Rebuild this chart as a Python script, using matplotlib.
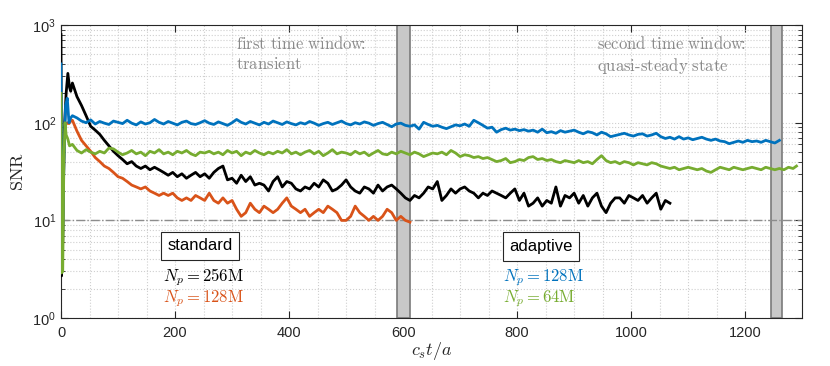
import numpy as np
import matplotlib
matplotlib.use("Agg")
import matplotlib.pyplot as plt
from matplotlib.ticker import LogLocator, MultipleLocator, NullFormatter, FixedLocator

plt.rcParams['font.family'] = ['Liberation Sans', 'DejaVu Sans']
plt.rcParams['mathtext.fontset'] = 'cm'

# ---------------- data ----------------
STEP = 8
black_t0 = [0, 1, 3, 6, 9, 12, 15, 17]
black_v0 = [800, 2.7, 8, 90, 200, 320, 230, 210]
black_v = [255, 185, 150, 118, 92, 84, 76, 66, 58, 51,
           46, 42, 38, 40, 36, 34, 36, 33, 35, 33,
           31, 29, 31, 28, 30, 27, 29, 31, 28, 30,
           27, 31, 34, 36, 26, 27, 24, 29, 25, 28,
           23, 24, 23, 20, 25, 28, 22, 25, 24, 21,
           20, 22, 21, 24, 22, 26, 24, 20, 21, 23,
           26, 22, 20, 19, 22, 21, 19, 23, 20, 22,
           23, 21, 19, 17, 16, 18, 17, 19, 22, 21,
           25, 16, 18, 21, 19, 21, 22, 20, 19, 17,
           19, 18, 20, 19, 18, 17, 19, 21, 16, 19,
           14, 15, 17, 14, 16, 15, 22, 14, 18, 17,
           19, 15, 18, 14, 17, 19, 14, 12, 15, 17,
           17, 15, 18, 17, 16, 18, 15, 17, 19, 13,
           16, 15]

red_t0 = [1, 3, 5, 8, 11, 14, 17]
red_v0 = [5.5, 5.8, 50, 95, 100, 98, 104]
red_v = [106, 82, 66, 58, 51, 44, 40, 36, 34, 31,
         28, 27, 25, 23, 22, 21, 22, 20, 19, 18,
         19, 18, 19, 17, 16, 17, 16, 18, 17, 16,
         19, 16, 15, 17, 15, 16, 13, 11, 12, 15,
         13, 12, 14, 13, 12, 13, 15, 17, 14, 13,
         12, 13, 11, 12, 13, 12, 14, 13, 12, 10,
         10, 11, 14, 12, 11, 10, 11, 10, 11, 13,
         12, 10, 11, 10, 9.6]

blue_t0 = [0, 1, 3, 5, 8, 11, 14, 17]
blue_v0 = [400, 5.6, 6, 40, 150, 178, 100, 112]
blue_v = [118, 112, 104, 100, 107, 97, 103, 99, 96, 104,
          101, 98, 106, 99, 95, 102, 97, 100, 108, 101,
          97, 103, 99, 95, 101, 104, 98, 96, 100, 105,
          99, 96, 102, 98, 94, 100, 108, 101, 97, 103,
          99, 95, 101, 97, 104, 100, 96, 102, 98, 95,
          100, 97, 103, 99, 94, 98, 101, 96, 100, 104,
          98, 95, 100, 97, 102, 99, 94, 98, 101, 96,
          91, 97, 99, 94, 92, 95, 86, 101, 96, 92,
          94, 90, 87, 91, 95, 93, 97, 92, 106, 100,
          94, 88, 90, 80, 85, 88, 84, 86, 83, 85,
          82, 84, 80, 86, 79, 81, 78, 83, 80, 82,
          84, 80, 77, 81, 79, 75, 80, 77, 72, 74,
          76, 78, 75, 73, 76, 77, 73, 75, 78, 72,
          69, 71, 68, 72, 68, 70, 67, 69, 71, 68,
          66, 68, 65, 64, 61, 63, 65, 63, 66, 64,
          65, 63, 66, 64, 62, 66]

green_t0 = [0, 1, 3, 5, 7, 9, 12, 15]
green_v0 = [200, 2.9, 3, 40, 100, 75, 68, 58]
green_v = [60, 52, 49, 53, 50, 48, 51, 49, 55, 54,
           50, 47, 49, 52, 48, 50, 46, 51, 49, 53,
           48, 50, 47, 51, 49, 52, 48, 46, 50, 49,
           51, 48, 50, 47, 52, 49, 51, 46, 50, 48,
           52, 49, 47, 50, 48, 51, 49, 53, 48, 50,
           47, 50, 52, 48, 51, 46, 49, 53, 48, 50,
           49, 47, 51, 48, 50, 46, 49, 52, 48, 47,
           50, 48, 51, 49, 47, 50, 48, 45, 47, 49,
           48, 50, 47, 52, 49, 45, 47, 46, 44, 45,
           43, 44, 42, 40, 41, 43, 39, 40, 42, 41,
           44, 45, 42, 43, 41, 42, 40, 39, 41, 40,
           39, 41, 39, 40, 38, 42, 46, 41, 39, 40,
           38, 40, 39, 37, 39, 38, 37, 39, 38, 36,
           35, 34, 35, 33, 34, 35, 34, 33, 34, 32,
           31, 33, 35, 34, 33, 35, 34, 33, 34, 35,
           34, 33, 35, 34, 33, 34, 33, 35, 34, 36]

windows = [(590, 612), (1245, 1265)]
threshold = 10
xticks = [0, 200, 400, 600, 800, 1000, 1200]

def series(t0, v0, v, start=20):
    t = list(t0) + [start + STEP * i for i in range(len(v))]
    return np.array(t, float), np.array(list(v0) + list(v), float)

tb, vb = series(black_t0, black_v0, black_v)
tr, vr = series(red_t0, red_v0, red_v)
tB, vB = series(blue_t0, blue_v0, blue_v)
tg, vg = series(green_t0, green_v0, green_v[:-1])
tg = np.append(tg, 1290.0); vg = np.append(vg, green_v[-1])

c_black = 'black'
c_red = '#D95319'
c_blue = '#0072BD'
c_green = '#77AC30'

# ---------------- figure ----------------
fig = plt.figure(figsize=(8.30, 3.66), dpi=100)
ax = fig.add_axes([0.0735, 0.131, 0.893, 0.8005])
ax.set_yscale('log')
ax.set_xlim(0, 1300)
ax.set_ylim(1, 1000)

for (a, b) in windows:
    ax.axvspan(a, b, facecolor='#c8c8c8', edgecolor='#7a7a7a', lw=1.2, zorder=1)

ax.axhline(threshold, color='#8c8c8c', ls='-.', lw=1.0, zorder=1.5)

lw = 2.0
ax.plot(tb, vb, color=c_black, lw=lw, zorder=3)
ax.plot(tr, vr, color=c_red, lw=lw, zorder=3)
ax.plot(tB, vB, color=c_blue, lw=lw, zorder=3)
ax.plot(tg, vg, color=c_green, lw=lw, zorder=3)

# ticks & grid
ax.xaxis.set_major_locator(FixedLocator(xticks))
ax.xaxis.set_minor_locator(MultipleLocator(50))
ax.yaxis.set_major_locator(LogLocator(base=10, numticks=10))
ax.yaxis.set_minor_locator(LogLocator(base=10, subs=np.arange(2, 10), numticks=10))
ax.yaxis.set_minor_formatter(NullFormatter())
ax.tick_params(which='both', direction='in', top=True, right=True,
               colors='#262626', labelsize=10.5)
ax.tick_params(which='major', length=5, width=0.8)
ax.tick_params(axis='y', which='minor', length=3, width=0.6)
ax.tick_params(axis='x', which='minor', length=0)
ax.tick_params(axis='x', which='major', pad=6)
ax.grid(True, which='both', color='#cfcfcf', ls=':', lw=0.8, zorder=0)
ax.set_axisbelow(True)
for s in ax.spines.values():
    s.set_color('#262626')
    s.set_linewidth(0.8)

ax.set_xlabel(r'$c_s t/a$', fontsize=13, color='#262626', labelpad=0)
ax.set_ylabel(r'$\mathrm{SNR}$', fontsize=13, color='#262626', labelpad=4)

# annotations
gray = '#8a8a8a'
ax.text(0.236, 0.965, r'$\mathrm{first\ time\ window}\!\!:$', transform=ax.transAxes,
        fontsize=12, color=gray, va='top', ha='left')
ax.text(0.236, 0.895, r'$\mathrm{transient}$', transform=ax.transAxes,
        fontsize=12, color=gray, va='top', ha='left')
ax.text(0.723, 0.965, r'$\mathrm{second\ time\ window}\!\!:$', transform=ax.transAxes,
        fontsize=12, color=gray, va='top', ha='left')
ax.text(0.723, 0.895, r'$\mathrm{quasi\text{-}steady\ state}$', transform=ax.transAxes,
        fontsize=12, color=gray, va='top', ha='left')

box = dict(boxstyle='square,pad=0.4', facecolor='white', edgecolor='#262626', lw=0.8)
ax.text(244, 5.5, 'standard', fontsize=12, ha='center', va='center', bbox=box, zorder=5)
ax.text(842, 5.4, 'adaptive', fontsize=12, ha='center', va='center', bbox=box, zorder=5)

ax.text(179, 2.6, r'$N_p = 256\mathrm{M}$', fontsize=12, color=c_black, ha='left', va='center')
ax.text(179, 1.58, r'$N_p = 128\mathrm{M}$', fontsize=12, color=c_red, ha='left', va='center')
ax.text(775, 2.6, r'$N_p = 128\mathrm{M}$', fontsize=12, color=c_blue, ha='left', va='center')
ax.text(775, 1.58, r'$N_p = 64\mathrm{M}$', fontsize=12, color=c_green, ha='left', va='center')

fig.savefig('out.png', dpi=100)
